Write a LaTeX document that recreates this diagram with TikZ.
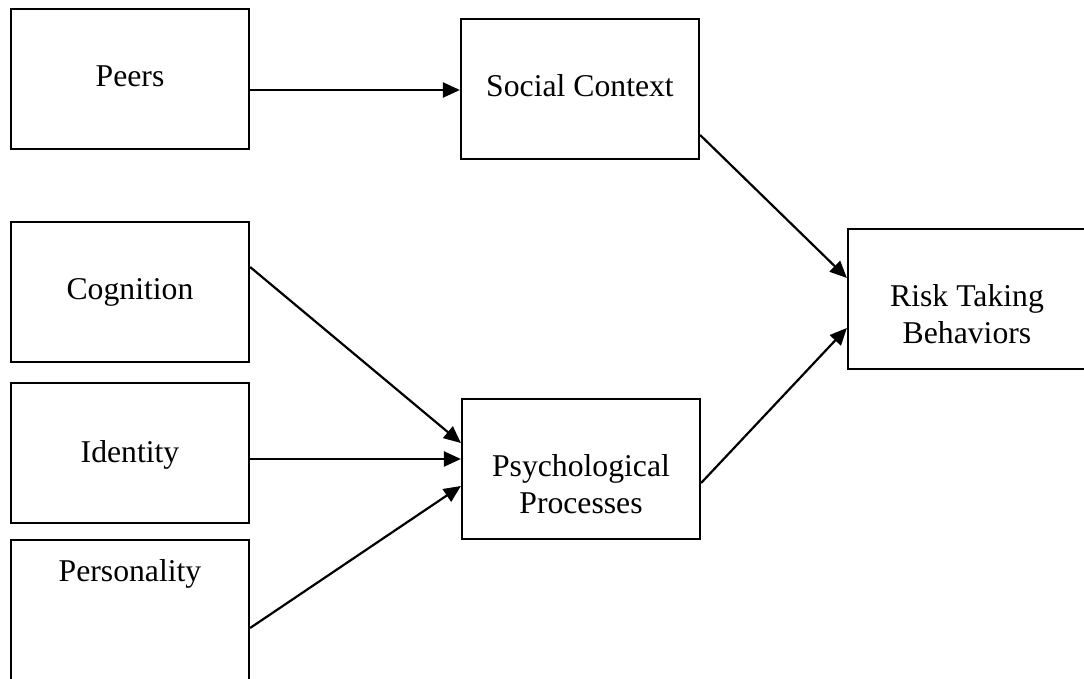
\documentclass[tikz,border=0pt]{standalone}
\usepackage{fontspec}
\setmainfont{Liberation Serif}
\usetikzlibrary{arrows.meta}
\begin{document}
\begin{tikzpicture}[x=1pt,y=-1pt,
  box/.style={draw=black,line width=2.2pt,rectangle,inner sep=0pt,minimum width=238pt,minimum height=140pt},
  lbl/.style={anchor=base,inner sep=0pt,align=center,font=\fontsize{31.7}{36.5}\selectfont},
  conn/.style={line width=2.2pt,-{Triangle[length=17pt,width=15pt]}}]
\clip (0,0) rectangle (1084,679);
\fill[white] (0,0) rectangle (1084,679);
% boxes
\node[box] (peers) at (130,79) {};
\node[box] (social) at (580,89) {};
\node[box] (cog) at (130,292) {};
\node[box] (ident) at (130,453) {};
\node[box,minimum height=142pt] (pers) at (130,611) {};
\node[box] (psych) at (581,469) {};
\node[box] (risk) at (967,299) {};
% labels
\node[lbl] (peersT) at (130,87) {Peers};
\node[lbl] (socialT) at (580,97) {Social Context};
\node[lbl] (cogT) at (130,299) {Cognition};
\node[lbl] (identT) at (130,462) {Identity};
\node[lbl] (persT) at (130,581) {Personality};
\node[lbl] (psychT) at (581,513) {Psychological\\Processes};
\node[lbl] (riskT) at (967,343) {Risk Taking\\Behaviors};
% connectors
\draw[conn] ([yshift=-11pt]peers.east) -- ([yshift=-1pt]social.west);
\draw[conn] ([yshift=-46pt]social.east) -- ([yshift=21pt]risk.west);
\draw[conn] ([yshift=25pt]cog.east) -- ([yshift=26pt]psych.west);
\draw[conn] ([yshift=-6pt]ident.east) -- ([yshift=10pt]psych.west);
\draw[conn] ([yshift=-17pt]pers.east) -- ([yshift=-17pt]psych.west);
\draw[conn] ([yshift=-14pt]psych.east) -- ([yshift=-29pt]risk.west);
\end{tikzpicture}
\end{document}
